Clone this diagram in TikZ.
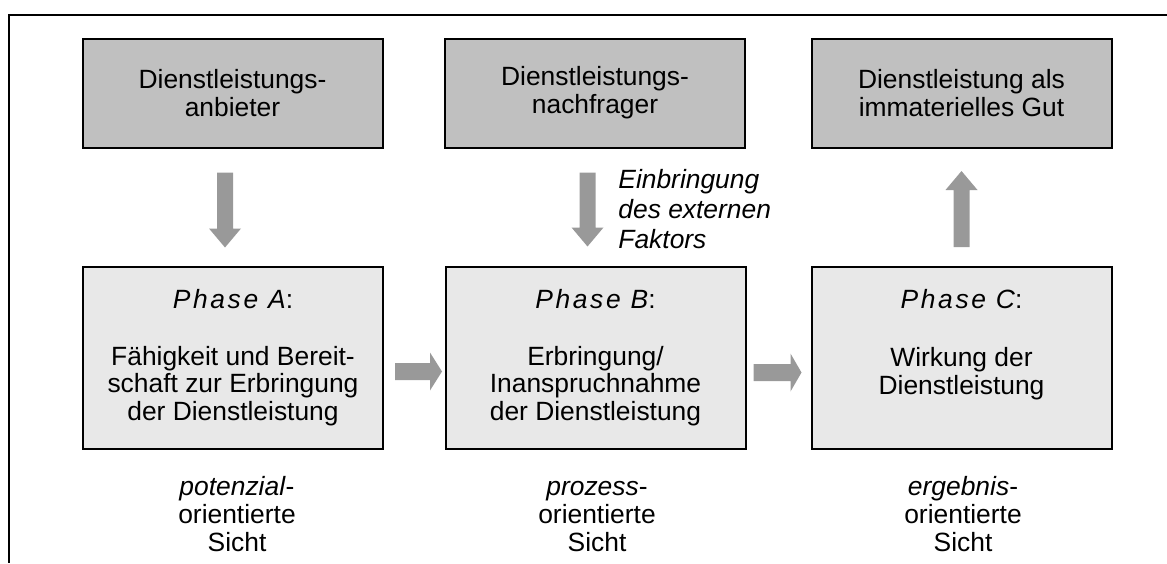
\documentclass[tikz,border=0pt]{standalone}
\usepackage{fontspec}
\setmainfont{Liberation Sans}
\usetikzlibrary{calc}

\definecolor{topfill}{HTML}{C0C0C0}
\definecolor{phasefill}{HTML}{E8E8E8}
\definecolor{arrowgray}{HTML}{999999}

% spaced italic phase label
\newcommand{\phasename}[1]{{\itshape\addfontfeature{LetterSpace=10}#1}}

% multi-line texts are placed by the baseline of their last line
\tikzset{
  topbox/.style={draw=black, line width=1pt, fill=topfill,
    minimum width=150pt, minimum height=54.5pt, inner sep=0pt,
    align=center, font=\fontsize{13.2}{14}\selectfont},
  phasebox/.style={draw=black, line width=1pt, fill=phasefill,
    minimum width=150pt, minimum height=91pt, inner sep=0pt},
  phasehead/.style={anchor=base, inner sep=0pt, font=\fontsize{13.2}{14}\selectfont},
  phasetext/.style={anchor=base, inner sep=0pt, align=center,
    font=\fontsize{13.2}{13.6}\selectfont},
  viewlabel/.style={anchor=base, inner sep=0pt, align=center,
    font=\fontsize{13.2}{14}\selectfont},
  sidelabel/.style={anchor=base west, inner sep=0pt, align=left,
    font=\fontsize{13.2}{15}\selectfont\itshape},
  % block arrow pointing vertically: shaft length / head length (signed)
  pics/vblock/.style args={#1/#2}{code={
    \fill[arrowgray] (-8,0) -- (8,0) -- (8,#1) -- (16,#1) -- (0,#1+#2)
      -- (-16,#1) -- (-8,#1) -- cycle;}},
  % block arrow pointing right: shaft length / head length
  pics/hblock/.style args={#1/#2}{code={
    \fill[arrowgray] (0,-8.5) -- (#1,-8.5) -- (#1,-19) -- (#1+#2,0)
      -- (#1,19) -- (#1,8.5) -- (0,8.5) -- cycle;}},
}

\begin{document}
\begin{tikzpicture}[x=0.5pt, y=-0.5pt]
\useasboundingbox (0,0) rectangle (1167,563);

% frame lines
\draw[line width=1pt] (1167,15) -- (9,15) -- (9,563);

% upper row
\node[topbox] (t1) at (232.5,93) {Dienstleistungs-\\anbieter};
\node[topbox] (t2) at (595,93) {Dienstleistungs-\\nachfrager};
\node[topbox] (t3) at (961.5,93) {Dienstleistung als\\immaterielles Gut};

% phase boxes
\node[phasebox] (pa) at (233,358) {};
\node[phasebox] (pb) at (595.5,358) {};
\node[phasebox] (pc) at (961.5,358) {};

\node[phasehead] (pah) at (233,308) {\phasename{Phase A}:};
\node[phasehead] (pbh) at (595.5,308) {\phasename{Phase B}:};
\node[phasehead] (pch) at (961.5,308) {\phasename{Phase C}:};

\node[phasetext] (pat) at (233,420) {Fähigkeit und Bereit-\\schaft zur Erbringung\\der Dienstleistung};
\node[phasetext] (pbt) at (595.5,420) {Erbringung/\\Inanspruchnahme\\der Dienstleistung};
\node[phasetext] (pct) at (961.5,394) {Wirkung der\\Dienstleistung};

% views below the phases
\node[viewlabel] (va) at (237,551) {\textit{potenzial}-\\orientierte\\Sicht};
\node[viewlabel] (vb) at (597,551) {\textit{prozess}-\\orientierte\\Sicht};
\node[viewlabel] (vc) at (963,551) {\textit{ergebnis}-\\orientierte\\Sicht};

% external factor note
\node[sidelabel] (ext) at (618,248) {Einbringung\\des externen\\Faktors};

% block arrows
\pic at ($(t1.south)+(-7.5,24)$) {vblock={56/19}};
\pic at ($(t2.south)+(-7.5,24)$) {vblock={55/19}};
\pic at ($(pc.north)+(0,-19)$) {vblock={-57/-19}};
\pic at ($(pa.east)+(11,13.5)$) {hblock={35/12}};
\pic at ($(pb.east)+(7,14.5)$) {hblock={37/11}};
\end{tikzpicture}
\end{document}
